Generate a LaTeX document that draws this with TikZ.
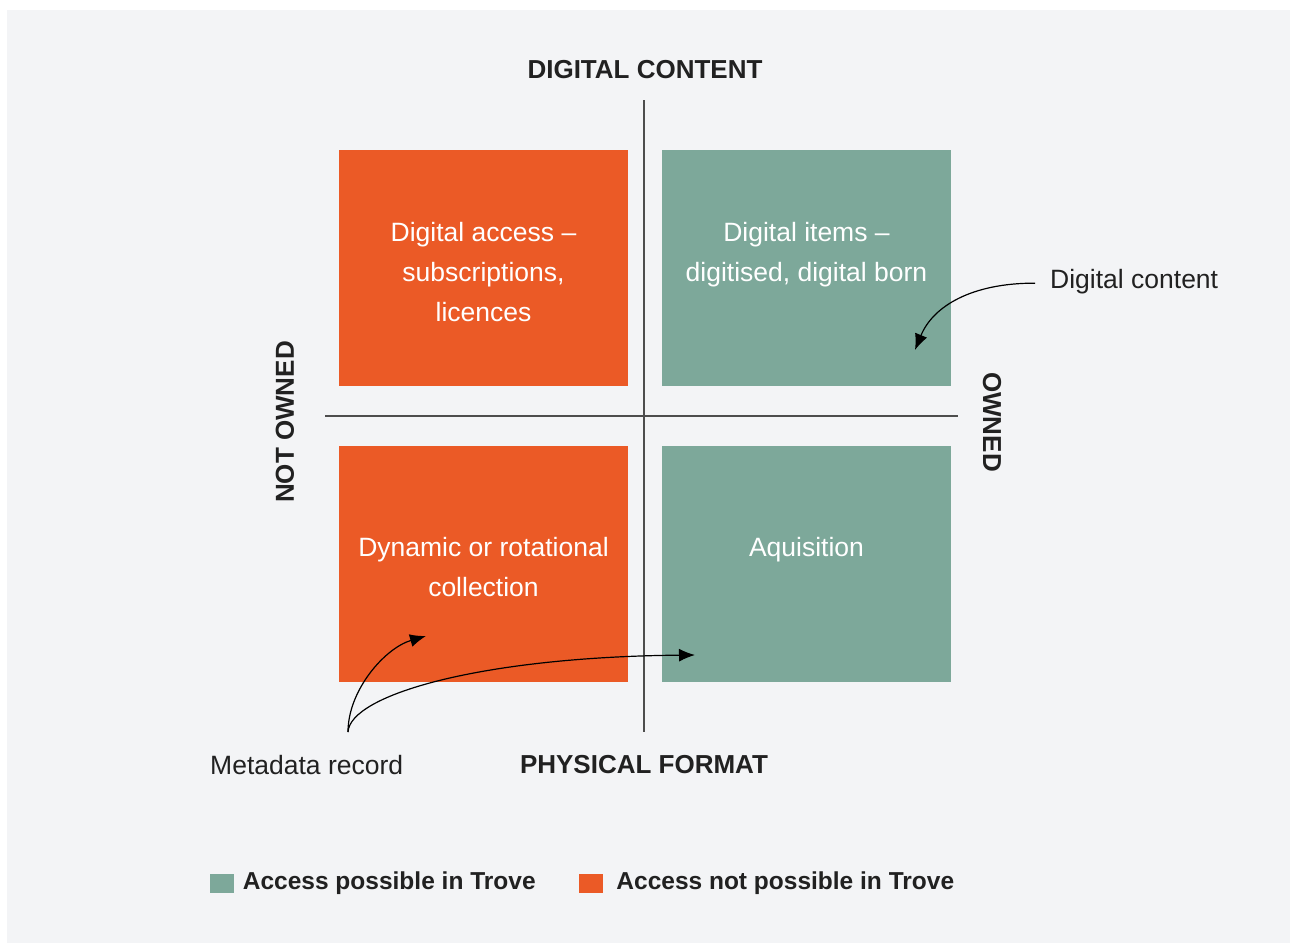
\documentclass[tikz,border=0pt]{standalone}
\usepackage{fontspec}
\setmainfont{Liberation Sans}
\usetikzlibrary{arrows.meta,positioning}
\definecolor{bggray}{HTML}{F3F4F6}
\definecolor{trovegreen}{HTML}{7DA89A}
\definecolor{troveorange}{HTML}{EB5A26}
\definecolor{ink}{HTML}{212121}
\definecolor{axisgray}{HTML}{4D4D4D}
\begin{document}
\begin{tikzpicture}[x=1pt, y=-1pt,
	quad/.style={minimum width=289, minimum height=236, inner sep=0},
	quadtext/.style={text=white, align=center, inner sep=0, font=\fontsize{26.5}{40}\selectfont},
	axislabel/.style={text=ink, inner sep=0, font=\bfseries\fontsize{26}{30}\selectfont},
	note/.style={text=ink, inner sep=0, font=\fontsize{26.5}{32}\selectfont},
	pointer/.style={black, line width=1.2pt, -{Latex[length=16pt, width=13pt]}},
	swatch/.style={minimum width=24, minimum height=19, inner sep=0},
	keytext/.style={text=ink, inner sep=0, font=\bfseries\fontsize{24.5}{28}\selectfont}]
	\useasboundingbox (0,0) rectangle (1291,943);
	\fill[white] (0,0) rectangle (1291,943);
	\fill[bggray] (7,10) rectangle (1290,943);
	\node[quad, fill=troveorange] (subs) at (483.5,268) {};
	\node[quad, fill=trovegreen] (items) at (806.5,268) {};
	\node[quad, fill=troveorange] (rotation) at (483.5,564) {};
	\node[quad, fill=trovegreen] (acquire) at (806.5,564) {};
	\node[quadtext] (substxt) at (483.5,272) {Digital access –\\subscriptions,\\licences};
	\node[quadtext] (itemstxt) at (806.5,255) {Digital items –\\digitised, digital born};
	\node[quadtext] (rotationtxt) at (483.5,567) {Dynamic or rotational\\collection};
	\node[quadtext] (acquiretxt) at (806.5,550) {Aquisition};
	\coordinate (vtop) at (644,100);
	\coordinate (vbot) at (644,732);
	\coordinate (hleft) at (325,416);
	\coordinate (hright) at (958,416);
	\draw[axisgray, line width=1.5pt] (vtop) -- (vbot);
	\draw[axisgray, line width=1.5pt] (hleft) -- (hright);
	\node[axislabel] (digital) at (645,70) {DIGITAL CONTENT};
	\node[axislabel] (physical) at (644,765) {PHYSICAL FORMAT};
	\node[axislabel, rotate=90] (notowned) at (285,422) {NOT OWNED};
	\node[axislabel, rotate=-90] (owned) at (992,422) {OWNED};
	\node[note, anchor=base west] (dcnote) at (1050,288) {Digital content};
	\coordinate (dctip) at (915,350);
	\draw[pointer] ([xshift=-15pt, yshift=-2pt]dcnote.west) .. controls (972,283) and (933,306) .. (dctip);
	\node[note, anchor=base west] (metanote) at (210,774) {Metadata record};
	\coordinate (metaroot) at (348,732);
	\coordinate (metatipa) at (426,636);
	\coordinate (metatipb) at (695,655);
	\draw[pointer] (metaroot) .. controls (348,690) and (385,648) .. (metatipa);
	\draw[pointer] (metaroot) .. controls (350,695) and (480,657) .. (metatipb);
	\node[swatch, fill=trovegreen] (keyown) at (221.5,883) {};
	\node[keytext, right=9pt of keyown] (keyowntxt) {Access possible in Trove};
	\node[swatch, fill=troveorange, right=43pt of keyowntxt] (keynot) {};
	\node[keytext, right=13pt of keynot] (keynottxt) {Access not possible in Trove};
\end{tikzpicture}
\end{document}
